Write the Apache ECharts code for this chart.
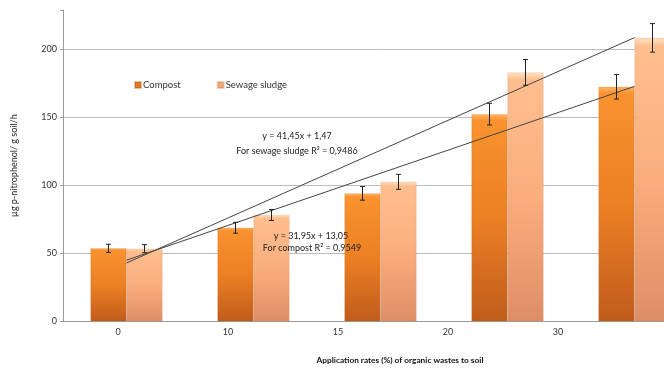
<!DOCTYPE html>
<html><head><meta charset="utf-8">
<script src="https://cdn.jsdelivr.net/npm/echarts@6/dist/echarts.min.js"></script>
<style>html,body{margin:0;padding:0;background:#fff;overflow:hidden}#c{width:700px;height:369px}</style>
</head><body><div id="c"></div>
<script>
const categories = ['0', '10', '15', '20', '30'];
const compost = [53.7, 68.8, 94.1, 152.4, 172.5];
const compostErr = [3, 4, 5, 8, 9];
const sludge = [53.4, 78.2, 102.6, 183.1, 208.5];
const sludgeErr = [3, 4, 5.5, 9.5, 10.5];
const sludgeTrend = [42.9, null, null, null, 208.7];
const compostTrend = [45.0, null, null, null, 172.8];
const yTicks = [0, 50, 100, 150, 200];

const FONT = 'Lato';
const chart = echarts.init(document.getElementById('c'));

function errSeries(name, vals, errs, side) {
  return {
    type: 'custom', name: name + ' err', xAxisIndex: 0, yAxisIndex: 0, z: 10,
    data: vals.map((v, i) => [i, v, errs[i]]),
    renderItem: function (params, api) {
      const i = api.value(0), v = api.value(1), e = api.value(2);
      const off = side * 18;
      const top = api.coord([i, v + e]);
      const bot = api.coord([i, v - e]);
      const x = top[0] + off;
      const c = 2.5;
      const st = { stroke: '#222', lineWidth: 1 };
      return { type: 'group', children: [
        { type: 'line', shape: { x1: x, y1: top[1], x2: x, y2: bot[1] }, style: st },
        { type: 'line', shape: { x1: x - c, y1: top[1], x2: x + c, y2: top[1] }, style: st },
        { type: 'line', shape: { x1: x - c, y1: bot[1], x2: x + c, y2: bot[1] }, style: st }
      ]};
    }
  };
}

const compostColor = new echarts.graphic.LinearGradient(0, 0, 0, 1, [
  { offset: 0, color: '#FFB565' }, { offset: 0.03, color: '#F9922F' },
  { offset: 0.5, color: '#EC8024' }, { offset: 1, color: '#C05C1C' }]);
const sludgeColor = new echarts.graphic.LinearGradient(0, 0, 0, 1, [
  { offset: 0, color: '#FFE2C4' }, { offset: 0.03, color: '#FFBE8F' },
  { offset: 0.5, color: '#FAAE7E' }, { offset: 1, color: '#DD8E66' }]);

chart.setOption({
  animation: false,
  textStyle: { fontFamily: FONT },
  grid: [
    { left: 63, top: 10, width: 635, height: 311.3 },
    { left: 63, top: 10, width: 550, height: 311.3 }
  ],
  legend: {
    left: 129, top: 75, itemWidth: 6, itemHeight: 6, itemGap: 36, icon: 'rect',
    data: [{ name: 'Compost', itemStyle: { color: '#E47A22' } }, { name: 'Sewage sludge', itemStyle: { color: '#F4A878' } }],
    textStyle: { fontSize: 9.5, color: '#333', fontFamily: FONT, padding: [0, 0, 0, -3] }
  },
  xAxis: [
    { type: 'category', gridIndex: 0, data: categories,
      axisLine: { lineStyle: { color: '#9a9a9a' } }, axisTick: { show: false }, axisLabel: { show: false } },
    { type: 'category', gridIndex: 1, data: categories,
      axisLine: { show: false }, axisTick: { show: false },
      axisLabel: { fontSize: 9, color: '#333', margin: 17, fontFamily: FONT },
      name: 'Application rates (%) of organic wastes to soil', nameLocation: 'middle', nameGap: 45,
      nameTextStyle: { fontSize: 8.3, fontWeight: 'bold', color: '#111', fontFamily: FONT, padding: [0, 0, 0, 124] } }
  ],
  yAxis: [
    { type: 'value', gridIndex: 0, min: 0, max: 229, interval: 50,
      axisLine: { show: true, lineStyle: { color: '#9a9a9a' } },
      axisTick: { show: true, length: 3, lineStyle: { color: '#9a9a9a' } },
      axisLabel: { fontSize: 9, color: '#333', margin: 6,
        formatter: v => yTicks.indexOf(v) >= 0 ? String(v) : '' },
      splitLine: { lineStyle: { color: ['#bdbdbd', '#bdbdbd', '#bdbdbd', '#bdbdbd', '#bdbdbd', 'rgba(0,0,0,0)'] } },
      name: 'µg p-nitrophenol/ g soil/h', nameLocation: 'middle', nameGap: 40, nameRotate: 90,
      nameTextStyle: { fontSize: 9, color: '#222', fontFamily: FONT, padding: [0, 0, 4, 0] } },
    { type: 'value', gridIndex: 1, min: 0, max: 229, show: false }
  ],
  series: [
    { name: 'Compost', type: 'bar', xAxisIndex: 0, yAxisIndex: 0, data: compost, barWidth: 36, barGap: '0%',
      itemStyle: { color: compostColor, borderColor: 'rgba(170,80,20,0.35)', borderWidth: 0.5 } },
    { name: 'Sewage sludge', type: 'bar', xAxisIndex: 0, yAxisIndex: 0, data: sludge, barWidth: 36, barGap: '0%',
      itemStyle: { color: sludgeColor, borderColor: 'rgba(200,120,80,0.35)', borderWidth: 0.5 } },
    errSeries('Compost', compost, compostErr, -1),
    errSeries('Sewage sludge', sludge, sludgeErr, 1),
    { type: 'line', xAxisIndex: 0, yAxisIndex: 0, data: sludgeTrend, connectNulls: true, symbol: 'none', z: 5,
      lineStyle: { color: '#444', width: 1 }, silent: true },
    { type: 'line', xAxisIndex: 0, yAxisIndex: 0, data: compostTrend, connectNulls: true, symbol: 'none', z: 5,
      lineStyle: { color: '#444', width: 1 }, silent: true }
  ],
  graphic: [
    { type: 'text', x: 297, y: 136, style: { text: 'y = 41,45x + 1,47', fontSize: 9, fill: '#222', fontFamily: FONT, align: 'center', verticalAlign: 'middle' } },
    { type: 'text', x: 297, y: 151, style: { text: 'For sewage sludge R² = 0,9486', fontSize: 9, fill: '#222', fontFamily: FONT, align: 'center', verticalAlign: 'middle' } },
    { type: 'text', x: 311, y: 236, z: 20, style: { text: 'y = 31,95x + 13,05', fontSize: 9, fill: '#222', fontFamily: FONT, align: 'center', verticalAlign: 'middle' } },
    { type: 'text', x: 312, y: 248, z: 20, style: { text: 'For compost R² = 0,9549', fontSize: 9, fill: '#222', fontFamily: FONT, align: 'center', verticalAlign: 'middle' } }
  ]
});
</script></body></html>
